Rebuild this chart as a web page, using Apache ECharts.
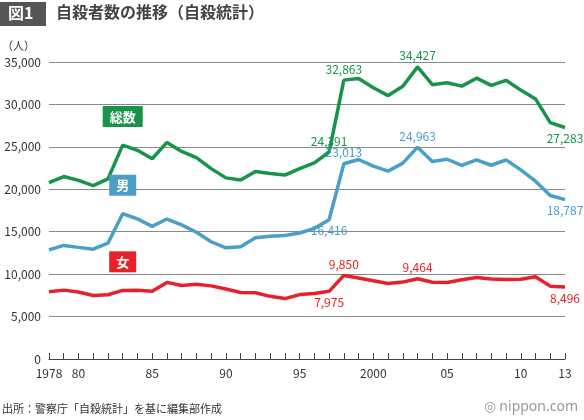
<!DOCTYPE html>
<html><head><meta charset="utf-8">
<script src="https://cdn.jsdelivr.net/npm/echarts@6/dist/echarts.min.js"></script>
<style>html,body{margin:0;padding:0;background:#fff}#c{width:584px;height:420px}</style>
</head><body><div id="c"></div>
<script>
const years = [];
for (let y = 1978; y <= 2013; y++) years.push(String(y));
const tickLabels = {"1978":"1978","1980":"80","1985":"85","1990":"90","1995":"95","2000":"2000","2005":"05","2010":"10","2013":"13"};
const total = [20788,21503,21048,20434,21228,25202,24596,23599,25524,24460,23742,22436,21346,21084,22104,21851,21679,22445,23104,24391,32863,33048,31957,31042,32143,34427,32325,32552,32155,33093,32249,32845,31690,30651,27858,27283];
const male = [12859,13386,13155,12942,13654,17116,16508,15624,16497,15802,14934,13818,13102,13242,14296,14468,14560,14853,15393,16416,23013,23512,22727,22144,23080,24963,23272,23540,22813,23478,22831,23472,22283,20955,19273,18787];
const female = [7929,8117,7893,7492,7574,8086,8088,7975,9027,8658,8808,8618,8244,7842,7808,7383,7119,7592,7711,7975,9850,9536,9230,8898,9063,9464,9053,9012,9342,9615,9418,9373,9407,9696,8585,8496];
const seriesNames = ['総数','男','女'];
const colors = ['#17934a','#4a9fc6','#e62129'];
const fmt = v => v.toLocaleString('en-US');

function build(vals, ci, name, labels, tagOffset) {
  return vals.map((v, i) => {
    const yr = years[i];
    if (yr === '1983') {
      return {value: v, label: {show: true, position: 'top', distance: tagOffset, formatter: name,
        backgroundColor: colors[ci], color: '#fff', fontWeight: 'bold', fontSize: 13, padding: [4, 7]}};
    }
    if (labels[yr]) {
      const [pos, off] = labels[yr];
      return {value: v, label: {show: true, position: pos, offset: off || [0,0], formatter: fmt(v), color: colors[ci], fontSize: 12}};
    }
    return v;
  });
}
function mkSeries(ci, vals, labels) {
  return {name: seriesNames[ci], type: 'line', symbol: 'circle', symbolSize: 0.1, showSymbol: true,
    lineStyle: {width: 3.5, color: colors[ci]}, itemStyle: {color: colors[ci]},
    label: {show: false}, labelLayout: {hideOverlap: false},
    data: build(vals, ci, seriesNames[ci], labels, 18)};
}

const chart = echarts.init(document.getElementById('c'));
chart.setOption({
  animation: false,
  textStyle: {fontFamily: '"Noto Sans CJK JP", sans-serif'},
  graphic: [
    {type: 'rect', left: 0, top: 2, shape: {width: 46, height: 24}, style: {fill: '#555'}},
    {type: 'text', left: 8, top: 5, style: {text: '図1', fill: '#fff', font: 'bold 16px "Noto Sans CJK JP"'}},
    {type: 'text', left: 56, top: 4, style: {text: '自殺者数の推移（自殺統計）', fill: '#444', font: 'bold 16px "Noto Sans CJK JP"'}},
    {type: 'text', left: 2, top: 40, style: {text: '（人）', fill: '#333', font: '11px "Noto Sans CJK JP"'}},
    {type: 'text', left: 2, top: 403, style: {text: '出所：警察庁「自殺統計」を基に編集部作成', fill: '#333', font: '11px "Noto Sans CJK JP"'}},
    {type: 'text', right: 6, top: 400, style: {text: '◎ nippon.com', fill: '#999', font: '14px "Noto Sans"'}}
  ],
  grid: {left: 49, right: 19, top: 62, bottom: 61},
  xAxis: {type: 'category', data: years, boundaryGap: false,
    axisLine: {lineStyle: {color: '#444'}},
    axisTick: {show: true, interval: 0, length: 6, inside: true, lineStyle: {color: '#444'}},
    axisLabel: {interval: 0, color: '#333', fontSize: 12, formatter: v => tickLabels[v] || ''}},
  yAxis: {type: 'value', min: 0, max: 35000, interval: 5000,
    axisLine: {show: false}, axisTick: {show: false},
    axisLabel: {color: '#333', fontSize: 12, formatter: fmt},
    splitLine: {lineStyle: {color: '#888'}}},
  series: [
    mkSeries(0, total, {'1997': ['top', [-18, -4]], '1998': ['top', [0, 0]], '2003': ['top', [0, 0]], '2013': ['bottom', [0, 4]]}),
    mkSeries(1, male, {'1997': ['bottom', [28, 6]], '1998': ['top', [14, 0]], '2003': ['top', [0, 0]], '2013': ['bottom', [0, 4]]}),
    mkSeries(2, female, {'1997': ['bottom', [0, 4]], '1998': ['top', [0, 0]], '2003': ['top', [0, 0]], '2013': ['bottom', [0, 4]]})
  ]
});
</script></body></html>
